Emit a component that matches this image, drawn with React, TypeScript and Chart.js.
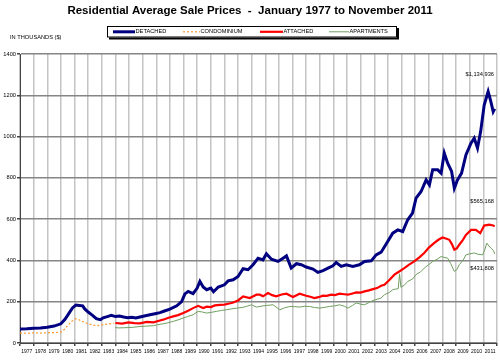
import React, { useEffect, useRef } from 'react';
import { Chart, registerables } from 'chart.js';

Chart.register(...registerables);

const titleText = 'Residential Average Sale Prices  -  January 1977 to November 2011';
const unitText = 'IN THOUSANDS ($)';
const yearLabels = [1977, 1978, 1979, 1980, 1981, 1982, 1983, 1984, 1985, 1986, 1987, 1988, 1989, 1990, 1991, 1992, 1993, 1994, 1995, 1996, 1997, 1998, 1999, 2000, 2001, 2002, 2003, 2004, 2005, 2006, 2007, 2008, 2009, 2010, 2011];
const seriesNames = ['DETACHED', 'CONDOMINIUM', 'ATTACHED', 'APARTMENTS'];
const endLabels = ['$1,134,936', '$565,168', '$431,808'];
const endLabelValues = [1303, 684, 360];

// [decimal year, price in thousands]
const detached: [number, number][] = [
  [1977.0, 68], [1977.5, 69], [1978.0, 71], [1978.5, 73], [1979.0, 76], [1979.5, 82],
  [1980.0, 93], [1980.3, 115], [1980.6, 145], [1980.85, 170], [1981.1, 184], [1981.35, 182],
  [1981.6, 180], [1981.75, 165], [1982.0, 150], [1982.3, 135], [1982.6, 118], [1982.9, 113],
  [1983.1, 122], [1983.4, 128], [1983.7, 134], [1984.0, 128], [1984.3, 131], [1984.6, 126],
  [1984.9, 122], [1985.2, 125], [1985.5, 121], [1985.8, 126], [1986.2, 132], [1986.54, 137],
  [1986.9, 142], [1987.27, 147], [1987.6, 155], [1988.0, 164], [1988.5, 180], [1988.86, 201],
  [1989.1, 238], [1989.34, 250], [1989.7, 239], [1990.0, 266], [1990.2, 298], [1990.44, 271],
  [1990.7, 258], [1991.0, 266], [1991.2, 248], [1991.55, 271], [1992.0, 282], [1992.27, 301],
  [1992.64, 306], [1993.0, 322], [1993.37, 360], [1993.73, 355], [1994.1, 379], [1994.47, 411],
  [1994.83, 403], [1995.08, 432], [1995.45, 406], [1995.93, 395], [1996.3, 411], [1996.55, 422],
  [1996.9, 363], [1997.28, 384], [1997.64, 379], [1998.0, 368], [1998.5, 358], [1998.86, 342],
  [1999.23, 351], [1999.6, 363], [1999.96, 374], [2000.2, 390], [2000.57, 371], [2000.94, 379],
  [2001.42, 371], [2001.9, 379], [2002.28, 395], [2002.77, 398], [2003.13, 427], [2003.5, 440],
  [2003.98, 492], [2004.35, 532], [2004.72, 548], [2005.08, 540], [2005.45, 597], [2005.8, 629],
  [2006.06, 702], [2006.43, 734], [2006.8, 790], [2007.04, 766], [2007.28, 839], [2007.65, 839],
  [2007.9, 823], [2008.13, 920], [2008.38, 871], [2008.67, 831], [2008.87, 750], [2009.1, 790],
  [2009.4, 823], [2009.72, 911], [2010.09, 968], [2010.33, 992], [2010.57, 944], [2010.8, 1024],
  [2011.06, 1153], [2011.35, 1218], [2011.55, 1169], [2011.72, 1121], [2011.83, 1135],
];

const condominium: [number, number][] = [
  [1977.0, 48], [1977.5, 47], [1978.0, 49], [1978.5, 48], [1979.0, 50], [1979.5, 50],
  [1980.0, 53], [1980.25, 65], [1980.5, 85], [1980.8, 105], [1981.1, 118], [1981.3, 114],
  [1981.5, 106], [1981.75, 100], [1982.0, 93], [1982.3, 88], [1982.6, 84], [1982.9, 86],
  [1983.2, 90], [1983.5, 92], [1983.9, 95],
];

const attached: [number, number][] = [
  [1984.0, 97], [1984.5, 94], [1984.95, 100], [1985.4, 96], [1985.8, 95], [1986.3, 102],
  [1986.8, 100], [1987.2, 108], [1987.5, 113], [1987.9, 122], [1988.25, 129], [1988.6, 135],
  [1988.98, 145], [1989.3, 155], [1989.7, 169], [1990.07, 180], [1990.44, 169], [1990.7, 176],
  [1991.0, 174], [1991.3, 182], [1991.66, 185], [1992.0, 186], [1992.27, 190], [1992.6, 195],
  [1993.0, 206], [1993.37, 226], [1993.86, 218], [1994.35, 234], [1994.6, 234], [1994.83, 226],
  [1995.2, 242], [1995.5, 232], [1995.8, 226], [1996.2, 235], [1996.55, 239], [1997.03, 223],
  [1997.52, 239], [1998.0, 229], [1998.3, 224], [1998.6, 218], [1998.9, 222], [1999.23, 229],
  [1999.5, 228], [1999.84, 234], [2000.1, 232], [2000.45, 239], [2000.8, 236], [2001.06, 234],
  [2001.4, 240], [2001.67, 245], [2002.0, 244], [2002.28, 250], [2002.6, 255], [2002.9, 261],
  [2003.2, 266], [2003.5, 277], [2003.74, 282], [2004.1, 305], [2004.47, 331], [2004.8, 345],
  [2005.2, 363], [2005.55, 380], [2005.93, 395], [2006.3, 415], [2006.66, 436], [2007.0, 462],
  [2007.38, 484], [2007.7, 500], [2008.0, 511], [2008.3, 505], [2008.5, 500], [2008.7, 478],
  [2008.87, 452], [2009.05, 458], [2009.23, 476], [2009.5, 500], [2009.72, 524], [2010.1, 548],
  [2010.45, 548], [2010.77, 532], [2011.06, 569], [2011.43, 573], [2011.72, 569], [2011.83, 565],
];

const apartments: [number, number][] = [
  [1984.0, 75], [1984.2, 73], [1984.7, 74], [1985.3, 76], [1985.8, 80], [1986.3, 82],
  [1986.8, 84], [1987.2, 90], [1987.5, 93], [1987.8, 97], [1988.25, 105], [1988.6, 112],
  [1988.98, 121], [1989.3, 128], [1989.7, 137], [1990.07, 153], [1990.4, 150], [1990.7, 145],
  [1991.0, 148], [1991.4, 153], [1991.8, 158], [1992.15, 161], [1992.5, 165], [1992.9, 169],
  [1993.3, 172], [1993.6, 177], [1993.98, 185], [1994.35, 174], [1994.6, 177], [1994.83, 180],
  [1995.1, 182], [1995.57, 185], [1996.06, 161], [1996.4, 170], [1996.8, 177], [1997.15, 176],
  [1997.5, 174], [1997.9, 178], [1998.25, 177], [1998.6, 172], [1998.98, 169], [1999.3, 172],
  [1999.7, 177], [2000.1, 180], [2000.45, 185], [2000.8, 178], [2001.06, 169], [2001.4, 182],
  [2001.67, 194], [2002.0, 188], [2002.28, 185], [2002.6, 196], [2002.9, 206], [2003.2, 212],
  [2003.5, 218], [2003.74, 234], [2004.1, 245], [2004.35, 258], [2004.6, 262], [2004.75, 262],
  [2004.85, 335], [2004.95, 270], [2005.2, 280], [2005.45, 298], [2005.8, 310], [2006.06, 331],
  [2006.4, 345], [2006.66, 363], [2007.0, 380], [2007.28, 395], [2007.6, 405], [2007.9, 419],
  [2008.1, 415], [2008.38, 411], [2008.6, 385], [2008.87, 347], [2009.05, 355], [2009.23, 379],
  [2009.5, 400], [2009.72, 427], [2010.0, 432], [2010.33, 436], [2010.6, 430], [2010.94, 427],
  [2011.1, 450], [2011.25, 484], [2011.4, 470], [2011.55, 460], [2011.75, 447], [2011.83, 432],
];

const FONT = '"Liberation Sans", Arial, sans-serif';
const colors = ['#000080', '#ff9933', '#ff0000', '#6f9f5f'];
const widths = [3, 1.2, 2.2, 1];
const dashes = [[], [2, 2], [], []];
const legendX = [113, 183, 260, 329];
const legendLen = [22, 17, 23, 20];

const decorPlugin = {
  id: 'decor',
  afterDraw(chart: any) {
    const ctx = chart.ctx as CanvasRenderingContext2D;
    ctx.save();
    ctx.fillStyle = '#000';
    ctx.font = `bold 11.5px ${FONT}`;
    ctx.textAlign = 'center';
    ctx.textBaseline = 'middle';
    ctx.fillText(titleText, 250, 10.5);

    // legend box with shadow
    ctx.fillStyle = '#000';
    ctx.fillRect(109, 28, 290, 11.5);
    ctx.fillStyle = '#fff';
    ctx.fillRect(107, 26, 290, 11.5);
    ctx.strokeStyle = '#000';
    ctx.lineWidth = 1;
    ctx.strokeRect(107.5, 26.5, 289, 10.5);

    ctx.font = `5.7px ${FONT}`;
    ctx.textAlign = 'left';
    seriesNames.forEach((name, i) => {
      const y = 31.8;
      ctx.beginPath();
      ctx.setLineDash(dashes[i]);
      ctx.strokeStyle = colors[i];
      ctx.lineWidth = widths[i];
      ctx.moveTo(legendX[i], y);
      ctx.lineTo(legendX[i] + legendLen[i], y);
      ctx.stroke();
      ctx.setLineDash([]);
      ctx.fillStyle = '#000';
      ctx.fillText(name, legendX[i] + legendLen[i] + 0.5, y);
    });

    ctx.fillText(unitText, 10, 37.8);

    const ys = chart.scales.y;
    ctx.textAlign = 'right';
    endLabels.forEach((t, i) => {
      ctx.fillText(t, 494, ys.getPixelForValue(endLabelValues[i]));
    });
    ctx.restore();
  },
};

const toPts = (arr: [number, number][]) => arr.map(([x, y]) => ({ x, y }));

export default function App() {
  const ref = useRef<HTMLCanvasElement>(null);
  useEffect(() => {
    if (!ref.current) return;
    const series = [detached, condominium, attached, apartments];
    const chart = new Chart(ref.current, {
      type: 'line',
      data: {
        datasets: series.map((s, i) => ({
          label: seriesNames[i],
          data: toPts(s),
          borderColor: colors[i],
          borderWidth: widths[i],
          borderDash: dashes[i],
          pointRadius: 0,
          tension: 0,
          fill: false,
        })),
      },
      options: {
        responsive: false,
        animation: false,
        devicePixelRatio: 1,
        layout: { padding: { top: 54, right: 2, left: 0, bottom: 0 } },
        plugins: { legend: { display: false }, title: { display: false }, tooltip: { enabled: false } },
        scales: {
          x: {
            type: 'linear',
            min: 1977,
            max: 2012,
            afterBuildTicks: (scale: any) => {
              scale.ticks = [...yearLabels, 2012].map((v) => ({ value: v }));
            },
            afterFit: (scale: any) => { scale.height = 17; },
            ticks: {
              autoSkip: false,
              maxRotation: 0,
              minRotation: 0,
              labelOffset: 6.83,
              padding: 3,
              color: '#000',
              font: { size: 5, family: FONT },
              callback: (v: any) => (yearLabels.includes(v) ? String(v) : ''),
            },
            grid: { color: '#c4c4c4', lineWidth: 1.5, tickColor: '#444', tickLength: 3 },
            border: { color: '#444', width: 1 },
          },
          y: {
            type: 'linear',
            min: 0,
            max: 1400,
            afterFit: (scale: any) => { scale.width = 20; },
            ticks: {
              stepSize: 200,
              padding: 1,
              color: '#000',
              font: { size: 5.7, family: FONT },
              callback: (v: any) => String(v),
            },
            grid: { color: '#858585', lineWidth: 1.5, tickColor: '#444', tickLength: 3 },
            border: { color: '#444', width: 1 },
          },
        },
      },
      plugins: [decorPlugin],
    });
    return () => chart.destroy();
  }, []);
  return (
    <div style={{ position: 'absolute', left: 0, top: 0, width: 500, height: 360, background: '#fff' }}>
      <canvas ref={ref} width={500} height={360} style={{ display: 'block' }} />
    </div>
  );
}
